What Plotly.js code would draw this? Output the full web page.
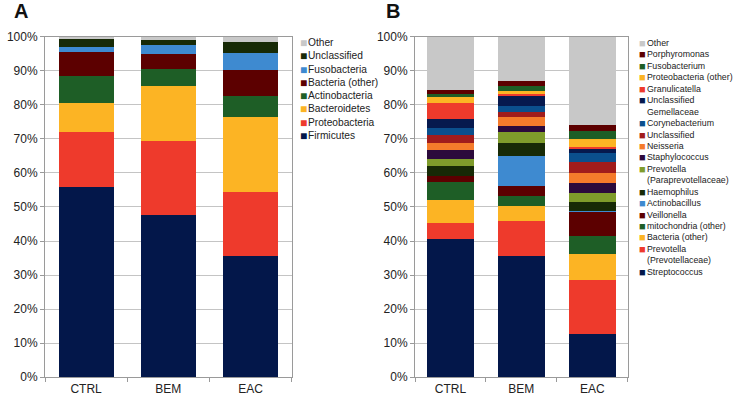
<!DOCTYPE html>
<html>
<head>
<meta charset="utf-8">
<script src="https://cdn.plot.ly/plotly-3.0.1.min.js"></script>
<style>
  html, body { margin: 0; padding: 0; background: #fff; }
  #chart { width: 740px; height: 404px; }
</style>
</head>
<body>
<div id="chart"></div>
<script>
// groups on the x axis
const categories = ['CTRL', 'BEM', 'EAC'];

// panel A: phyla, bottom of the stack first
const phylumNames = [
  'Firmicutes', 'Proteobacteria', 'Bacteroidetes', 'Actinobacteria',
  'Bacteria (other)', 'Fusobacteria', 'Unclassified', 'Other'
];
const phylumColors = [
  '#03174a', '#ee3a2c', '#fcb424', '#1e5e26',
  '#5c0000', '#3e8ad0', '#172a06', '#c8c8c8'
];
const ctrlPhyla = [55.9, 16.2, 8.3, 8.1, 7.1, 1.5, 2.2, 0.7];
const bemPhyla = [47.6, 21.7, 16.3, 4.8, 4.4, 2.7, 1.5, 1.0];
const eacPhyla = [35.6, 18.8, 21.9, 6.3, 7.6, 5.1, 3.0, 1.7];

// panel B: genera, bottom of the stack first
const genusNames = [
  'Streptococcus', 'Prevotella<br>(Prevotellaceae)', 'Bacteria (other)',
  'mitochondria (other)', 'Veillonella', 'Actinobacillus', 'Haemophilus',
  'Prevotella<br>(Paraprevotellaceae)', 'Staphylococcus', 'Neisseria',
  'Unclassified', 'Corynebacterium', 'Unclassified<br>Gemellaceae',
  'Granulicatella', 'Proteobacteria (other)', 'Fusobacterium',
  'Porphyromonas', 'Other'
];
const genusColors = [
  '#03174a', '#ee3a2c', '#fcb424', '#1e5e26', '#5c0000', '#3e8ad0',
  '#172a06', '#7f9c2b', '#2c0a3c', '#f57b2b', '#a11c1c', '#0b4f8d',
  '#06194e', '#ee3a2c', '#fcb424', '#1e5e26', '#5c0000', '#c8c8c8'
];
const ctrlGenera = [40.7, 4.5, 6.9, 5.2, 1.7, 0.2, 2.9, 1.9, 2.6, 2.1, 2.3, 2.1, 2.7, 4.8, 1.6, 1.0, 1.2, 15.6];
const bemGenera = [35.7, 10.3, 4.3, 3.0, 2.9, 8.8, 3.7, 3.4, 1.7, 2.6, 1.6, 1.7, 2.9, 0.6, 1.0, 1.3, 1.5, 13.0];
const eacGenera = [12.8, 15.8, 7.7, 5.3, 7.0, 0.3, 2.7, 2.5, 2.9, 2.9, 3.2, 2.7, 1.2, 0.7, 2.2, 2.5, 1.7, 25.9];

const W = 740;
const H = 404;
const FONT = 'Liberation Sans, Arial, sans-serif';

function stackTraces(names, colors, rows, xaxis, yaxis) {
  return names.map((name, i) => ({
    type: 'bar',
    name: name.replace('<br>', ' '),
    x: categories,
    y: rows.map((r) => r[i]),
    xaxis,
    yaxis,
    marker: { color: colors[i], line: { width: 0 } },
    showlegend: false
  }));
}

// legend drawn as two text columns: coloured squares and labels
function legendNotes(names, colors, left, top, size, boxSize, gap) {
  const items = names.map((n, i) => ({ n, c: colors[i] })).reverse();
  const squares = items.map((d) =>
    `<span style="color:${d.c};font-size:${boxSize}px">■</span>` +
    '<br>\u00A0'.repeat(d.n.split('<br>').length - 1)
  ).join('<br>');
  const labels = items.map((d) => d.n).join('<br>');
  const common = {
    xref: 'paper', yref: 'paper', showarrow: false,
    xanchor: 'left', yanchor: 'top', align: 'left',
    y: 1 - top / H,
    font: { family: FONT, size, color: '#222' }
  };
  return [
    { ...common, x: left / W, text: squares, yshift: 1 },
    { ...common, x: (left + gap) / W, text: labels }
  ];
}

const traces = [
  ...stackTraces(phylumNames, phylumColors, [ctrlPhyla, bemPhyla, eacPhyla], 'x', 'y'),
  ...stackTraces(genusNames, genusColors, [ctrlGenera, bemGenera, eacGenera], 'x2', 'y2')
];

const yDomain = [1 - 377.2 / H, 1 - 36.7 / H];

const xCommon = {
  type: 'category',
  showline: true,
  linecolor: '#9a9a9a',
  mirror: true,
  ticks: 'outside',
  tickson: 'boundaries',
  ticklen: 4,
  tickcolor: '#9a9a9a',
  showgrid: false,
  tickfont: { family: FONT, size: 12, color: '#222' },
  fixedrange: true
};
const yCommon = {
  range: [0, 100],
  dtick: 10,
  ticksuffix: '%',
  showline: true,
  linecolor: '#9a9a9a',
  mirror: true,
  ticks: 'outside',
  ticklen: 4,
  tickcolor: '#9a9a9a',
  gridcolor: '#c4c4c4',
  zeroline: false,
  tickfont: { family: FONT, size: 12, color: '#222' },
  domain: yDomain,
  fixedrange: true
};

const layout = {
  width: W,
  height: H,
  margin: { l: 0, r: 0, t: 0, b: 0 },
  paper_bgcolor: '#fff',
  plot_bgcolor: '#fff',
  barmode: 'stack',
  bargap: 0.33,
  showlegend: false,
  hovermode: false,
  xaxis: { ...xCommon, domain: [45 / W, 291.7 / W], anchor: 'y' },
  yaxis: { ...yCommon, anchor: 'x' },
  xaxis2: { ...xCommon, domain: [415 / W, 627.7 / W], anchor: 'y2' },
  yaxis2: { ...yCommon, anchor: 'x2' },
  annotations: [
    {
      xref: 'paper', yref: 'paper', x: 20.5 / W, y: 1 - 10.5 / H,
      xanchor: 'center', yanchor: 'middle', showarrow: false,
      text: '<b>A</b>', font: { family: FONT, size: 20, color: '#111' }
    },
    {
      xref: 'paper', yref: 'paper', x: 393.5 / W, y: 1 - 10.5 / H,
      xanchor: 'center', yanchor: 'middle', showarrow: false,
      text: '<b>B</b>', font: { family: FONT, size: 20, color: '#111' }
    },
    ...legendNotes(phylumNames, phylumColors, 298, 35, 10.2, 12, 8),
    ...legendNotes(genusNames, genusColors, 637, 35.5, 8.8, 11, 8)
  ]
};

Plotly.newPlot('chart', traces, layout, { staticPlot: true, displayModeBar: false });
</script>
</body>
</html>
